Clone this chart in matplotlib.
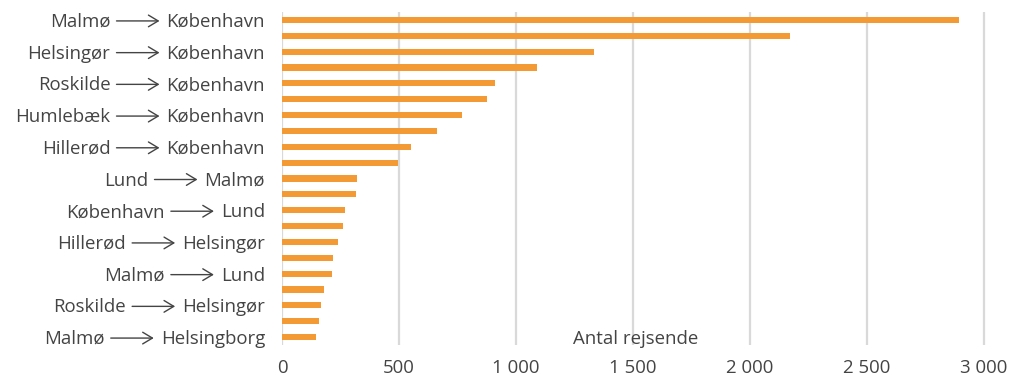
import matplotlib
matplotlib.use("Agg")
import matplotlib.pyplot as plt
from matplotlib.transforms import offset_copy

# routes, top to bottom; only every other one is labelled in the source
origins = ["Malmø", "", "Helsingør", "", "Roskilde", "", "Humlebæk", "",
           "Hillerød", "", "Lund", "", "København", "", "Hillerød", "",
           "Malmø", "", "Roskilde", "", "Malmø"]
destinations = ["København", "", "København", "", "København", "", "København", "",
                "København", "", "Malmø", "", "Lund", "", "Helsingør", "",
                "Lund", "", "Helsingør", "", "Helsingborg"]
travellers = [2895, 2174, 1332, 1090, 909, 876, 769, 662, 550, 496, 320,
              315, 268, 261, 239, 216, 215, 181, 165, 158, 145]
xticks = [0, 500, 1000, 1500, 2000, 2500, 3000]
xticklabels = ["0", "500", "1 000", "1 500", "2 000", "2 500", "3 000"]

plt.rcParams["font.family"] = ["Open Sans", "DejaVu Sans"]
TXT = "#444444"
FS = 13.4

W, H = 1012, 379
fig = plt.figure(figsize=(W / 100, H / 100), dpi=100)
left, right, top, bottom = 282, 1000, 12, 345
ax = fig.add_axes([left / W, 1 - bottom / H, (right - left) / W, (bottom - top) / H])

y = list(range(len(travellers)))
ax.barh(y, travellers, height=0.38, color="#f39a35", zorder=3)
ax.set_ylim(len(travellers) - 0.5, -0.5)
ax.set_xlim(0, 3070)

ax.set_yticks([])
ax.set_xticks(xticks)
ax.set_xticklabels(xticklabels, fontsize=FS, color=TXT)
ax.tick_params(axis="x", length=0, pad=10)

ax.grid(axis="x", color="#d9d9d9", linewidth=1.6, zorder=0)
for s in ax.spines.values():
    s.set_visible(False)

ax.text(1510, -0.01, "Antal rejsende", transform=ax.get_xaxis_transform(),
        ha="center", va="bottom", fontsize=FS, color=TXT)

# category labels: "origin ⟶ destination", arrow drawn as a line arrow
tr = offset_copy(ax.get_yaxis_transform(), fig=fig, x=-17, y=0, units="dots")
fig.canvas.draw()
rend = fig.canvas.get_renderer()
for i, (o, d) in enumerate(zip(origins, destinations)):
    if not o:
        continue
    td = ax.text(0, i, d, transform=tr, ha="right", va="center_baseline",
                 fontsize=FS, color=TXT)
    bb = td.get_window_extent(rend)
    x_end = bb.x0 - 7
    x_start = x_end - 43
    ymid = ax.transData.transform((0, i))[1] - 1
    ax.annotate("", xy=(x_end, ymid), xytext=(x_start, ymid),
                xycoords="figure pixels", textcoords="figure pixels",
                arrowprops=dict(arrowstyle="->,head_length=0.7,head_width=0.42",
                                color=TXT, lw=1.0, shrinkA=0, shrinkB=0))
    tro = offset_copy(ax.get_yaxis_transform(), fig=fig,
                      x=x_start - 6 - ax.bbox.x0, y=0, units="dots")
    ax.text(0, i, o, transform=tro, ha="right", va="center_baseline",
            fontsize=FS, color=TXT)

fig.savefig("out.png", dpi=100)
